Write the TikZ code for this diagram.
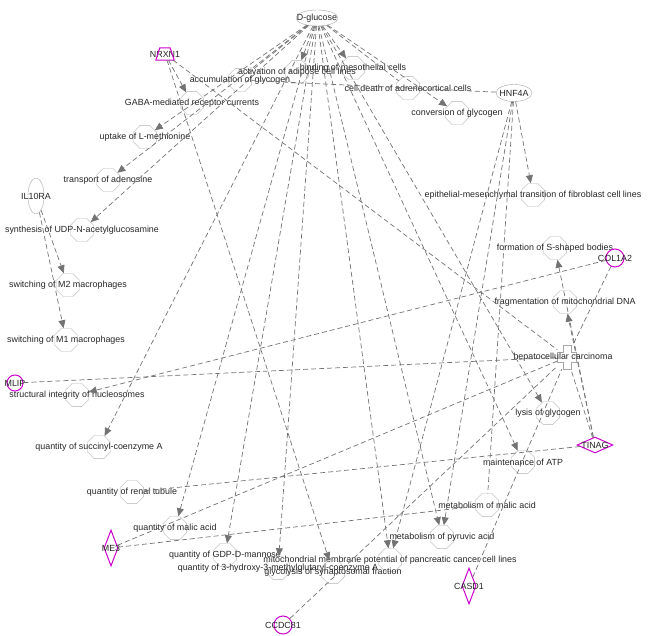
\documentclass[tikz,border=0pt]{standalone}
\usepackage{fontspec}
\setmainfont{Liberation Sans}
\usetikzlibrary{shapes.geometric,arrows.meta}
\definecolor{genemag}{RGB}{204,0,204}

\begin{document}
\begin{tikzpicture}[x=1pt, y=-1pt,
  fn/.style={regular polygon, regular polygon sides=8, draw=black!30,
    minimum size=25pt, inner sep=0pt},
  lbl/.style={font=\fontsize{8.9}{10}\selectfont, text=black!85, inner sep=0pt},
  mol/.style={ellipse, draw=black!35, inner sep=0pt},
  gene/.style={draw=genemag, line width=1pt, inner sep=0pt},
  link/.style={draw=black!55, dash pattern=on 5pt off 3pt, line width=0.7pt},
  arr/.style={link, -{Triangle[length=8pt, width=7pt, fill=black!55]}}
]
\useasboundingbox (0,0) rectangle (650,636);

% --- functions (octagons) ---
\foreach \n/\x/\y/\t in {
  accgly/240/80/accumulation of glycogen,
  actad/297/72/activation of adipose cell lines,
  meso/353/68/binding of mesothelial cells,
  celld/408/88/cell death of adrenocortical cells,
  convg/457/113/conversion of glycogen,
  gaba/192/103/GABA-mediated receptor currents,
  uptk/145/137/uptake of L-methionine,
  trad/108/180/transport of adenosine,
  udp/82/230/synthesis of UDP-N-acetylglucosamine,
  emt/533/195/epithelial-mesenchymal transition of fibroblast cell lines,
  swmtwo/68/285/switching of M2 macrophages,
  swmone/66/340/switching of M1 macrophages,
  fssb/555/248/formation of S-shaped bodies,
  frag/565/302/fragmentation of mitochondrial DNA,
  sinuc/77/395/structural integrity of nucleosomes,
  lysg/548/413/lysis of glycogen,
  succ/99/447/quantity of succinyl-coenzyme A,
  matp/523/462/maintenance of ATP,
  renal/132/492/quantity of renal tubule,
  metmal/487/505/metabolism of malic acid,
  qmal/175/528/quantity of malic acid,
  pyr/442/537/metabolism of pyruvic acid,
  gdp/225/555/quantity of GDP-D-mannose,
  mito/390/560/mitochondrial membrane potential of pancreatic cancer cell lines,
  hmg/278/568/quantity of 3-hydroxy-3-methylglutaryl-coenzyme A,
  glyc/333/572/glycolysis of synaptosomal fraction}
  \node[fn, label={[lbl]center:\t}] (\n) at (\x,\y) {};

% --- molecules ---
\node[mol, minimum width=42pt, minimum height=16pt, label={[lbl]center:D-glucose}] (dglc) at (317,18) {};
\node[mol, minimum width=36pt, minimum height=17pt, label={[lbl]center:HNF4A}] (hnf) at (514,93) {};
\node[mol, minimum width=16pt, minimum height=36pt, label={[lbl]center:IL10RA}] (il10) at (36,196) {};

% --- disease ---
\node[minimum width=19pt, minimum height=24pt, inner sep=0pt] (hcc) at (567,357) {};
\draw[black!35] (hcc) ++(-4,-12) -- ++(8,0) -- ++(0,7) -- ++(5.5,0) -- ++(0,10)
  -- ++(-5.5,0) -- ++(0,7) -- ++(-8,0) -- ++(0,-7) -- ++(-5.5,0) -- ++(0,-10)
  -- ++(5.5,0) -- cycle;
\node[lbl] (hcclbl) at (563,357) {hepatocellular carcinoma};

% --- genes ---
\node[minimum width=18pt, minimum height=12pt, inner sep=0pt, label={[lbl]center:NRXN1}] (nrxn) at (165,54) {};
\draw[genemag, line width=1pt] (nrxn.south west) -- (nrxn.south east)
  -- ([xshift=-4pt]nrxn.north east) -- ([xshift=4pt]nrxn.north west) -- cycle;
\node[gene, circle, minimum size=18pt, label={[lbl]center:COL1A2}] (col) at (615,258) {};
\node[gene, circle, minimum size=16pt, label={[lbl]center:MLIP}] (mlip) at (15,383) {};
\node[gene, circle, minimum size=18pt, label={[lbl]center:CCDC81}] (ccdc) at (283,625) {};
\node[gene, diamond, minimum width=36pt, minimum height=16pt, label={[lbl]center:TINAG}] (tinag) at (595,445) {};
\node[gene, diamond, minimum width=14pt, minimum height=36pt, label={[lbl]center:ME3}] (methree) at (111,548) {};
\node[gene, diamond, minimum width=14pt, minimum height=36pt, label={[lbl]center:CASD1}] (casd) at (469,586) {};

% --- edges ---
\foreach \t in {actad,meso,convg,uptk,trad,udp,succ,qmal,gdp,hmg,mito,pyr,matp,lysg}
  \draw[arr] (dglc) -- (\t);
\foreach \t in {accgly,celld}
  \draw[link] (dglc) -- (\t);
\draw[arr] (nrxn) -- (gaba);
\draw[arr] (nrxn) -- (glyc);
\draw[link] (nrxn) -- (hcc);
\draw[arr] (hnf) -- (emt);
\draw[arr] (hnf) -- (pyr);
\draw[arr] (hnf) -- (mito);
\draw[link] (hnf) -- (metmal);
\draw[link] (hnf) -- (accgly);
\draw[arr] (il10) -- (swmtwo);
\draw[arr] (il10) -- (swmone);
\draw[arr] (col) -- (sinuc);
\draw[link] (col) -- (hcc);
\draw[arr] (tinag) -- (frag);
\draw[arr] (tinag) -- (fssb);
\draw[link] (tinag) -- (renal);
\draw[link] (tinag) -- (hcc);
\draw[link] (mlip) -- (hcc);
\draw[link] (casd) -- (hcc);
\draw[link] (methree) -- (hcc);
\draw[link] (methree) -- (metmal);
\draw[link] (ccdc) -- (hcc);
\end{tikzpicture}
\end{document}
